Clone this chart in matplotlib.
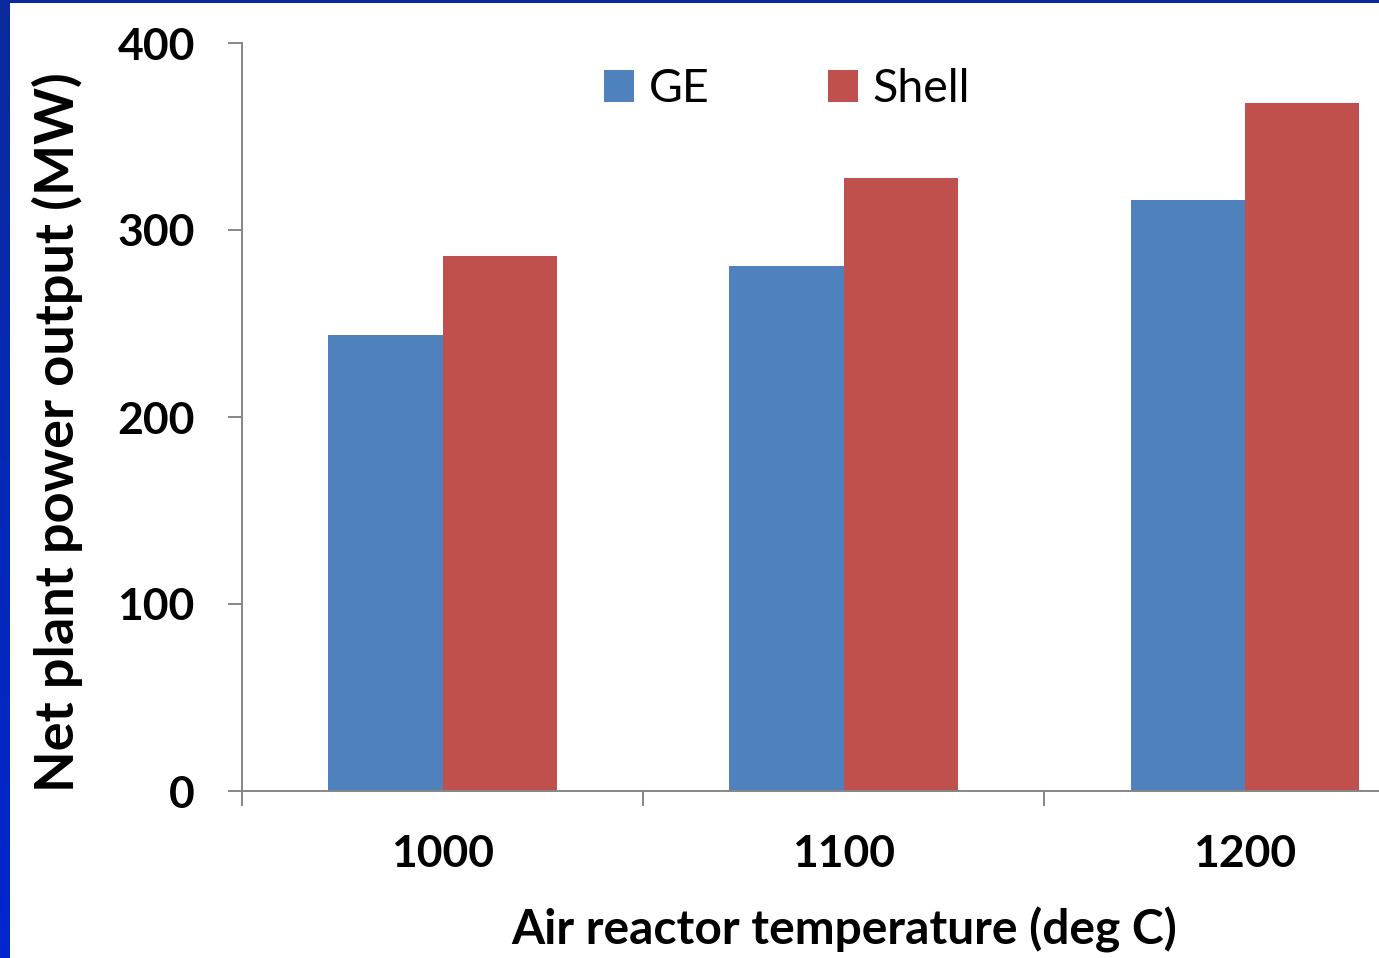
import numpy as np
import matplotlib
matplotlib.use('Agg')
from matplotlib import pyplot as plt
from matplotlib.colors import LinearSegmentedColormap
from matplotlib.patches import Rectangle

categories = ['1000', '1100', '1200']
ge_values = [244, 281, 316]
shell_values = [286, 328, 368]
y_ticks = [0, 100, 200, 300, 400]

plt.rcParams['font.family'] = ['Lato', 'DejaVu Sans']

W, H = 1379, 958
fig = plt.figure(figsize=(W / 100, H / 100), dpi=100)

# blue slide border (left and top)
border = fig.add_axes([0, 0, 10 / W, 1])
border.axis('off')
cmap = LinearSegmentedColormap.from_list('edge', ['#0A2A9C', '#0428B8', '#0026CE'])
border.imshow(np.linspace(0, 1, 256).reshape(-1, 1), cmap=cmap, aspect='auto')
fig.patches.append(Rectangle((0, 1 - 3 / H), 1, 3 / H, transform=fig.transFigure,
                             facecolor='#0A2A9C', edgecolor='none'))

ax = fig.add_axes([242 / W, 1 - 791 / H, 1 - 242 / W, (791 - 43) / H])
x = np.arange(len(categories))
w = 0.285
ax.bar(x - w / 2, ge_values, w, color='#4F81BD', label='GE')
ax.bar(x + w / 2, shell_values, w, color='#C0504D', label='Shell')

ax.set_yticks(y_ticks)
ax.set_yticklabels([str(v) for v in y_ticks], fontsize=32, fontweight='bold')

ax.set_xticks([-0.5, 0.5, 1.5, 2.5])
ax.set_xticklabels([])
ax.set_xticks(x, minor=True)
ax.set_xticklabels(categories, minor=True, fontsize=32, fontweight='bold')
ax.set_xlim(-0.5, 2.334)
ax.set_ylim(0, 400)
ax.tick_params(axis='x', which='major', length=11, width=1.4, color='#868686', direction='out')
ax.tick_params(axis='x', which='minor', length=0, pad=31)
ax.tick_params(axis='y', length=10, width=1.4, color='#868686', pad=24)

for s in ['top', 'right']:
    ax.spines[s].set_visible(False)
for s in ['left', 'bottom']:
    ax.spines[s].set_color('#868686')
    ax.spines[s].set_linewidth(1.4)

ax.set_ylabel('Net plant power output (MW)', fontsize=39, fontweight='bold', va='center')
ax.yaxis.set_label_coords(-0.1627, 0.48)
ax.set_xlabel('Air reactor temperature (deg C)', fontsize=34.5, fontweight='bold', va='center')
ax.xaxis.set_label_coords(0.53, -0.186)

ax.legend(loc='upper left', bbox_to_anchor=(604 / W, 1 - 68 / H), bbox_transform=fig.transFigure,
          ncol=2, frameon=False, fontsize=33.5, handlelength=0.64, handleheight=0.68,
          handletextpad=0.32, columnspacing=2.55, borderpad=0, borderaxespad=0)

fig.savefig('out.png', dpi=100)
